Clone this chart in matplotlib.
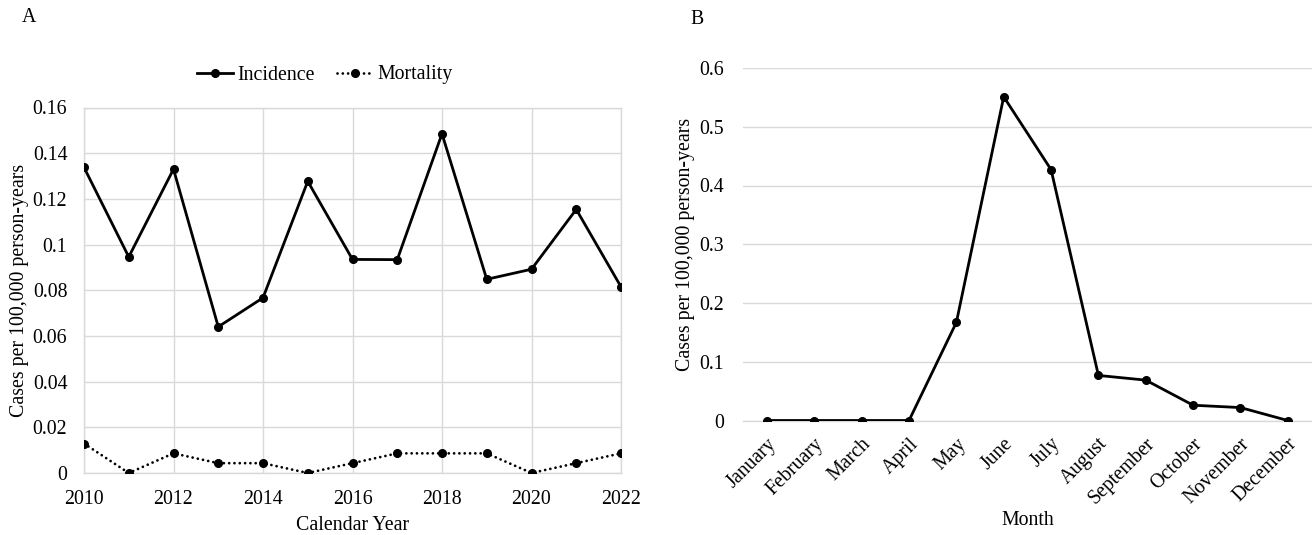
import matplotlib
matplotlib.use("Agg")
import matplotlib.pyplot as plt

plt.rcParams['font.family'] = ['Liberation Serif', 'DejaVu Serif']
FS = 14.3

# ---- Data ----
years = [2010, 2011, 2012, 2013, 2014, 2015, 2016, 2017, 2018, 2019, 2020, 2021, 2022]
incidence = [0.1338, 0.0946, 0.1330, 0.0640, 0.0767, 0.1277, 0.0935, 0.0934, 0.1485, 0.0848, 0.0892, 0.1154, 0.0815]
mortality = [0.0129, 0.0, 0.0086, 0.0043, 0.0043, 0.0, 0.0043, 0.0086, 0.0086, 0.0086, 0.0, 0.0043, 0.0086]

months = ["January", "February", "March", "April", "May", "June", "July",
          "August", "September", "October", "November", "December"]
monthly = [0.0, 0.0, 0.0, 0.0, 0.167, 0.551, 0.427, 0.0767, 0.0687, 0.026, 0.022, 0.0]

year_ticks = [2010, 2012, 2014, 2016, 2018, 2020, 2022]
a_yticks = [0, 0.02, 0.04, 0.06, 0.08, 0.1, 0.12, 0.14, 0.16]
a_yticklabels = ["0", "0.02", "0.04", "0.06", "0.08", "0.1", "0.12", "0.14", "0.16"]
b_yticks = [0, 0.1, 0.2, 0.3, 0.4, 0.5, 0.6]
b_yticklabels = ["0", "0.1", "0.2", "0.3", "0.4", "0.5", "0.6"]

W, H = 1312, 535
fig = plt.figure(figsize=(W / 100, H / 100), dpi=100)

GRID = "#d9d9d9"

def px_axes(l, r, t, b):
    return fig.add_axes([l / W, 1 - b / H, (r - l) / W, (b - t) / H])

# ---- Panel A ----
axA = px_axes(84, 621, 107.5, 473)
axA.plot(years, incidence, color="black", lw=2.0, marker="o", ms=5.5, zorder=3,
         label="Incidence")
axA.plot(years, mortality, color="black", lw=2.0, marker="o", ms=5.5, zorder=3,
         linestyle=(0, (0.01, 1.9)), dash_capstyle="round", label="Mortality")
axA.set_xlim(2010, 2022)
axA.set_ylim(0, 0.16)
axA.set_xticks(year_ticks)
axA.set_xticklabels([str(y) for y in year_ticks], fontsize=FS)
axA.set_yticks(a_yticks)
axA.set_yticklabels(a_yticklabels, fontsize=FS)
axA.tick_params(length=0, pad=12)
axA.grid(True, color=GRID, lw=1.0)
axA.set_axisbelow(True)
for s in axA.spines.values():
    s.set_color(GRID)
    s.set_linewidth(1.0)
axA.set_xlabel("Calendar Year", fontsize=FS, labelpad=5)
axA.set_ylabel("Cases per 100,000 person-years", fontsize=FS, labelpad=3)

fig.legend(handles=axA.get_lines(), loc="center", bbox_to_anchor=(325 / W, 1 - 75 / H),
           ncol=2, frameon=False, fontsize=FS, handlelength=1.8, handletextpad=0.25,
           columnspacing=1.1, numpoints=1)

# ---- Panel B ----
axB = px_axes(743.3, 1311.5, 68, 420.5)
xs = list(range(len(months)))
axB.plot(xs, monthly, color="black", lw=2.0, marker="o", ms=5.5, zorder=3)
axB.set_xlim(-0.5, len(months) - 0.5)
axB.set_ylim(0, 0.6)
axB.set_xticks(xs)
axB.set_xticklabels(months, fontsize=FS, rotation=45, ha="right", rotation_mode="anchor")
axB.set_yticks(b_yticks)
axB.set_yticklabels(b_yticklabels, fontsize=FS)
axB.tick_params(axis="y", length=0, pad=14)
axB.tick_params(axis="x", length=0, pad=10)
axB.grid(True, axis="y", color=GRID, lw=1.0)
axB.set_axisbelow(True)
for k, s in axB.spines.items():
    if k == "bottom":
        s.set_color(GRID)
        s.set_linewidth(1.0)
    else:
        s.set_visible(False)
axB.set_xlabel("Month", fontsize=FS, labelpad=2)
axB.set_ylabel("Cases per 100,000 person-years", fontsize=FS, labelpad=3)

fig.text(22 / W, 1 - 17 / H, "A", fontsize=FS, ha="left", va="center")
fig.text(690 / W, 1 - 20 / H, "B", fontsize=FS, ha="left", va="center")

fig.savefig("out.png", dpi=100)
